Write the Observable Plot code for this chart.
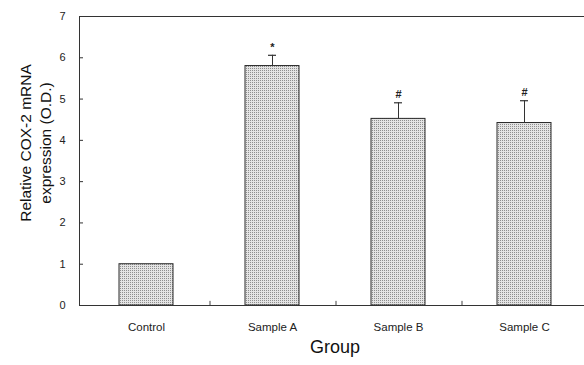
<!DOCTYPE html>
<html>
<head>
<meta charset="utf-8">
<script src="https://cdn.jsdelivr.net/npm/d3@7"></script>
<script src="https://cdn.jsdelivr.net/npm/@observablehq/plot@0.6"></script>
<style>
  html, body { margin: 0; padding: 0; background: #fff; }
  #chart { width: 584px; height: 365px; overflow: hidden; }
  svg { font-family: "Liberation Sans", Arial, sans-serif; }
</style>
</head>
<body>
<div id="chart"></div>
<script>
const groups = ["Control", "Sample A", "Sample B", "Sample C"];
const means = [1.0, 5.80, 4.52, 4.42];
const errors = [0.0, 0.26, 0.39, 0.54];
const marks = ["", "*", "#", "#"];
const yTicks = [0, 1, 2, 3, 4, 5, 6, 7];
const yLabel = "Relative COX-2 mRNA\nexpression (O.D.)";
const xLabel = "Group";

const data = groups.map((g, i) => ({group: g, mean: means[i], err: errors[i], top: means[i] + errors[i], mark: marks[i]}));
const inner = groups.slice(0, -1).map(g => ({group: g}));

const chart = Plot.plot({
  width: 584,
  height: 365,
  marginLeft: 79,
  marginRight: -6,
  marginTop: 16,
  marginBottom: 60,
  style: {fontFamily: "'Liberation Sans', Arial, sans-serif", color: "#222", background: "#fff"},
  x: {domain: groups, paddingInner: 0.575, paddingOuter: 0.3},
  y: {domain: [0, 7]},
  marks: [
    Plot.barY(data, {x: "group", y: "mean", fill: "url(#stip)", stroke: "#2a2a2a", strokeWidth: 1}),
    Plot.ruleX(data.filter(d => d.err > 0), {x: "group", y1: "mean", y2: "top", stroke: "#333", strokeWidth: 1}),
    Plot.tickY(data.filter(d => d.err > 0), {x: "group", y: "top", stroke: "#333", strokeWidth: 1.2, insetLeft: 23, insetRight: 23}),
    Plot.text(data, {x: "group", y: "top", text: "mark", dy: -8, fontSize: 11, fontWeight: "bold", fill: "#222"}),
    Plot.ruleX(inner, {x: "group", y1: 0, y2: 0.1, dx: 63.5, stroke: "#444"}),
    Plot.frame({stroke: "#333", strokeWidth: 1}),
    Plot.axisY({ticks: yTicks, tickFormat: "d", tickSize: 0, tickPadding: 14, fontSize: 11, label: null}),
    Plot.axisY({ticks: yTicks, tickSize: 4, dx: 4, tickFormat: () => "", label: null, stroke: "#333"}),
    Plot.axisX({tickSize: 0, tickPadding: 17, fontSize: 11.5, label: null}),
    Plot.text([xLabel], {frameAnchor: "bottom", dy: 47, fontSize: 18, fill: "#111"}),
    Plot.text([yLabel], {frameAnchor: "left", textAnchor: "middle", rotate: -90, dx: -45, dy: -18, fontSize: 15.5, lineHeight: 1.3, fill: "#111"})
  ]
});

const defs = document.createElementNS("http://www.w3.org/2000/svg", "defs");
defs.innerHTML = `<pattern id="stip" width="2" height="2" patternUnits="userSpaceOnUse">
  <rect width="2" height="2" fill="#e4e4e4"></rect>
  <rect width="1" height="1" fill="#8e8e8e"></rect>
</pattern>`;
chart.insertBefore(defs, chart.firstChild);
document.getElementById("chart").appendChild(chart);
</script>
</body>
</html>
